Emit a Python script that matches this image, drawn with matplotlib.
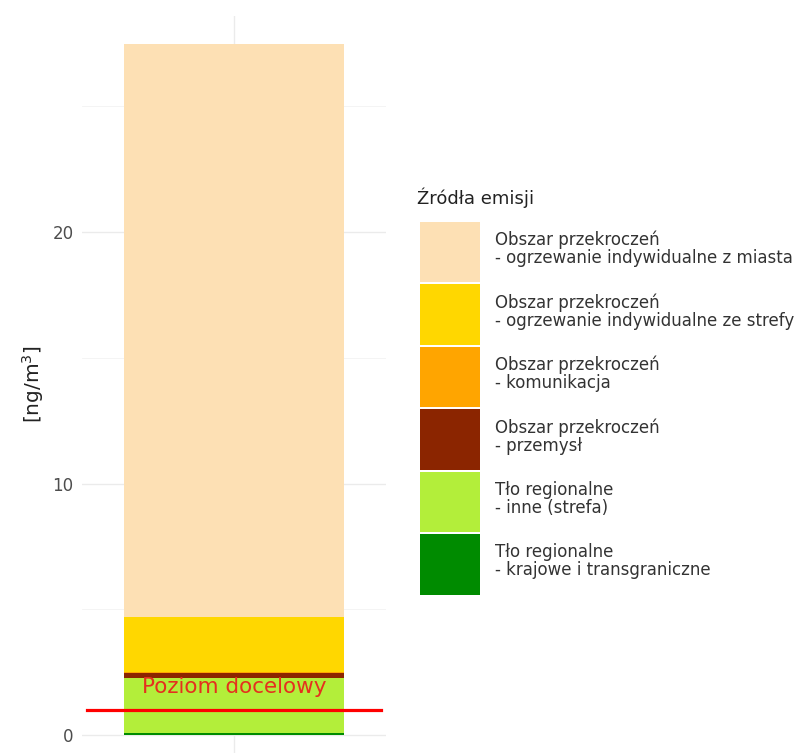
import matplotlib
matplotlib.use("Agg")
import matplotlib.pyplot as plt
from matplotlib.patches import Patch
import numpy as np

plt.rcParams['font.family'] = ['DejaVu Sans']

# Data (stacking order bottom -> top)
sources = [
    "Tło regionalne\n- krajowe i transgraniczne",
    "Tło regionalne\n- inne (strefa)",
    "Obszar przekroczeń\n- przemysł",
    "Obszar przekroczeń\n- komunikacja",
    "Obszar przekroczeń\n- ogrzewanie indywidualne ze strefy",
    "Obszar przekroczeń\n- ogrzewanie indywidualne z miasta",
]
values = [0.08, 2.19, 0.20, 0.03, 2.18, 22.79]
colors = ["#008B00", "#B3EE3A", "#8B2500", "#FFA500", "#FFD700", "#FDE0B4"]
target_level = 1.0
target_label = "Poziom docelowy"
legend_title = "Źródła emisji"
y_label = "[ng/m$^3$]"

fig = plt.figure(figsize=(8.04, 7.53), dpi=100)
W, H = 804, 753
ax = fig.add_axes([82 / W, 0, 304 / W, (H - 16) / H])

bottom = 0.0
for v, c in zip(values, colors):
    ax.bar(0, v, bottom=bottom, width=0.724, color=c, zorder=2)
    bottom += v

ax.axhline(target_level, xmin=0.017, xmax=0.983, color="#FF0000",
           linewidth=2.3, zorder=4)
ax.text(0, 1.9, target_label, color="#E5301E", fontsize=15.5, ha="center",
        va="center", zorder=5)

ax.set_xlim(-0.5, 0.5)
ax.set_ylim(-0.716, 28.59)
ax.set_yticks([0, 10, 20])
ax.set_yticks([5, 15, 25], minor=True)
ax.set_xticks([0])
ax.set_xticklabels([""])
ax.tick_params(axis="both", which="both", length=0, colors="#4D4D4D", labelsize=12)
ax.tick_params(axis="y", pad=6)
ax.grid(True, which="major", color="#EBEBEB", linewidth=1.0, zorder=0)
ax.grid(True, which="minor", axis="y", color="#F3F3F3", linewidth=0.6, zorder=0)
ax.set_axisbelow(True)
for s in ax.spines.values():
    s.set_visible(False)
ax.set_ylabel(y_label, fontsize=14.5, color="#222222", labelpad=5)

fig.text(417 / W, 1 - 198 / H, legend_title, fontsize=13, color="#222222",
         ha="left", va="center")

handles = [Patch(facecolor=c, edgecolor="none") for c in colors[::-1]]
labels = sources[::-1]
leg = fig.legend(handles, labels, loc="upper left",
                 bbox_to_anchor=(420 / W, 1 - 222 / H), frameon=False,
                 fontsize=12, handlelength=3.6, handleheight=5.2,
                 labelspacing=0.12, handletextpad=0.9,
                 borderpad=0, borderaxespad=0)
for t in leg.get_texts():
    t.set_color("#333333")
    t.set_linespacing(1.0)

fig.savefig("out.png", dpi=100)
